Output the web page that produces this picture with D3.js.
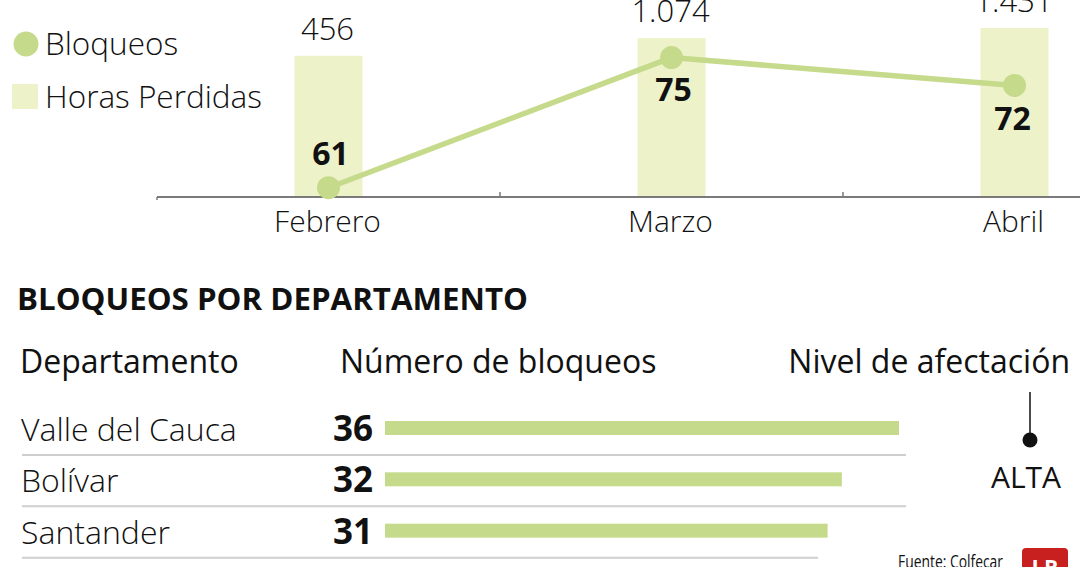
<!DOCTYPE html>
<html><head><meta charset="utf-8">
<script src="https://cdn.jsdelivr.net/npm/d3@7"></script>
<style>
html,body{margin:0;padding:0;background:#fff;overflow:hidden}
svg{display:block}
text{font-family:"Open Sans","Noto Sans",sans-serif;fill:#111}
</style></head><body>
<svg id="c" width="1080" height="567"></svg>
<script>
// ---- data ----
const months = ["Febrero", "Marzo", "Abril"];
const horasPerdidas = [456, 1074, 1431];
const horasLabels = ["456", "1.074", "1.431"];
const bloqueos = [61, 75, 72];
const departamentos = ["Valle del Cauca", "Bolívar", "Santander"];
const bloqueosDepto = [36, 32, 31];
const nivel = ["ALTA"];

const lightGreen = "#c6da8b";
const paleGreen = "#edf2c9";
const svg = d3.select("#c");

// ---- top chart ----
const base = 197;
const x = d3.scaleBand().domain(months).range([157, 1186]).paddingInner(0).paddingOuter(0);
const barW = 68;
const yBar = d3.scaleLinear().domain([-4500, 1431]).range([base, 28]);
const yLine = d3.scaleLinear().domain([60, 81.2]).range([base, 0]);
const cx = d => x(d) + x.bandwidth() / 2;

svg.append("g").selectAll("rect").data(months).join("rect")
  .attr("x", d => cx(d) - barW / 2)
  .attr("width", barW)
  .attr("y", (d, i) => yBar(horasPerdidas[i]))
  .attr("height", (d, i) => base - yBar(horasPerdidas[i]))
  .attr("fill", paleGreen);

svg.append("g").selectAll("text").data(months).join("text")
  .attr("x", d => cx(d) - 1)
  .attr("y", (d, i) => yBar(horasPerdidas[i]) - 16)
  .attr("text-anchor", "middle")
  .attr("font-size", 31).attr("font-weight", 300)
  .text((d, i) => horasLabels[i]);

// axis
const ax = svg.append("g");
ax.append("line").attr("x1", x.range()[0]).attr("x2", 1080)
  .attr("y1", base).attr("y2", base).attr("stroke", "#7a7a7a").attr("stroke-width", 2);
ax.append("line").attr("x1", x.range()[0]).attr("x2", x.range()[0])
  .attr("y1", base).attr("y2", base + 3).attr("stroke", "#7a7a7a").attr("stroke-width", 1.5);
ax.selectAll(".tk").data(months.slice(1)).join("line").attr("class", "tk")
  .attr("x1", d => x(d)).attr("x2", d => x(d))
  .attr("y1", base).attr("y2", base - 5).attr("stroke", "#7a7a7a").attr("stroke-width", 1.5);
ax.selectAll(".ml").data(months).join("text").attr("class", "ml")
  .attr("x", d => cx(d) - 1).attr("y", base + 35)
  .attr("text-anchor", "middle").attr("font-size", 30).attr("font-weight", 300)
  .text(d => d);

// line
const lineGen = d3.line().x((d, i) => cx(months[i])).y(d => yLine(d));
svg.append("path").datum(bloqueos).attr("d", lineGen)
  .attr("fill", "none").attr("stroke", lightGreen).attr("stroke-width", 5.5);
svg.append("g").selectAll("circle").data(bloqueos).join("circle")
  .attr("cx", (d, i) => cx(months[i])).attr("cy", d => yLine(d)).attr("r", 11.5)
  .attr("fill", lightGreen);
const lblOff = [-23, 43, 45];
svg.append("g").selectAll("text").data(bloqueos).join("text")
  .attr("x", (d, i) => cx(months[i]) + [2, 2, -2][i])
  .attr("y", (d, i) => yLine(d) + lblOff[i])
  .attr("text-anchor", "middle").attr("font-size", 32).attr("font-weight", 700)
  .text(d => d);

// legend
svg.append("circle").attr("cx", 26).attr("cy", 44).attr("r", 12.5).attr("fill", lightGreen);
svg.append("rect").attr("x", 12).attr("y", 84).attr("width", 26).attr("height", 25).attr("fill", paleGreen);
svg.append("text").attr("x", 45).attr("y", 55).attr("font-size", 31.5).attr("font-weight", 300).text("Bloqueos");
svg.append("text").attr("x", 45).attr("y", 108).attr("font-size", 31.5).attr("font-weight", 300).text("Horas Perdidas");

// ---- bottom table ----
svg.append("text").attr("x", 17).attr("y", 310).attr("font-size", 30).attr("font-weight", 700)
  .attr("textLength", 511).attr("lengthAdjust", "spacingAndGlyphs")
  .text("BLOQUEOS POR DEPARTAMENTO");
svg.append("text").attr("x", 20).attr("y", 373).attr("font-size", 32).text("Departamento");
svg.append("text").attr("x", 340).attr("y", 373).attr("font-size", 32).text("Número de bloqueos");
svg.append("text").attr("x", 1070).attr("y", 373).attr("font-size", 32).attr("text-anchor", "end").text("Nivel de afectación");

const rowY = d3.scaleBand().domain(departamentos).range([403, 557]);
const xb = d3.scaleLinear().domain([0, 36]).range([385, 899]);

const rows = svg.append("g").selectAll("g").data(departamentos).join("g")
  .attr("transform", d => `translate(0,${rowY(d)})`);
rows.append("text").attr("x", 21).attr("y", 38).attr("font-size", 32).attr("font-weight", 300).text(d => d);
rows.append("text").attr("x", 373).attr("y", 38).attr("font-size", 35).attr("font-weight", 700)
  .attr("text-anchor", "end").text((d, i) => bloqueosDepto[i]);
rows.append("rect").attr("x", xb(0)).attr("y", 18).attr("height", 14)
  .attr("width", (d, i) => xb(bloqueosDepto[i]) - xb(0)).attr("fill", lightGreen);
rows.append("line").attr("x1", 22).attr("x2", (d, i) => i < 2 ? 906 : 818)
  .attr("y1", 52).attr("y2", 52).attr("stroke", "#cfcfcf").attr("stroke-width", 2);

// nivel
svg.append("line").attr("x1", 1030).attr("x2", 1030).attr("y1", 392).attr("y2", 440)
  .attr("stroke", "#111").attr("stroke-width", 1.5);
svg.append("circle").attr("cx", 1030).attr("cy", 440).attr("r", 7.5).attr("fill", "#111");
svg.append("text").attr("x", 1026).attr("y", 488).attr("text-anchor", "middle")
  .attr("font-size", 30).attr("font-weight", 400).text(nivel[0]);

// source + logo
svg.append("text").attr("x", 898).attr("y", 568).attr("font-size", 18)
  .attr("font-family", "'Liberation Sans Narrow','Open Sans',sans-serif")
  .attr("textLength", 105).attr("lengthAdjust", "spacingAndGlyphs").text("Fuente: Colfecar");
svg.append("path").attr("d", "M1022,572 L1022,552 Q1022,548 1026,548 L1064,548 Q1068,548 1068,552 L1068,572 Z")
  .attr("fill", "#c8201e");
svg.append("text").attr("x", 1045).attr("y", 575).attr("text-anchor", "middle").attr("font-size", 22)
  .attr("font-weight", 700).attr("font-family", "'Liberation Serif',serif").style("fill", "#fff").text("LR");
</script></body></html>
